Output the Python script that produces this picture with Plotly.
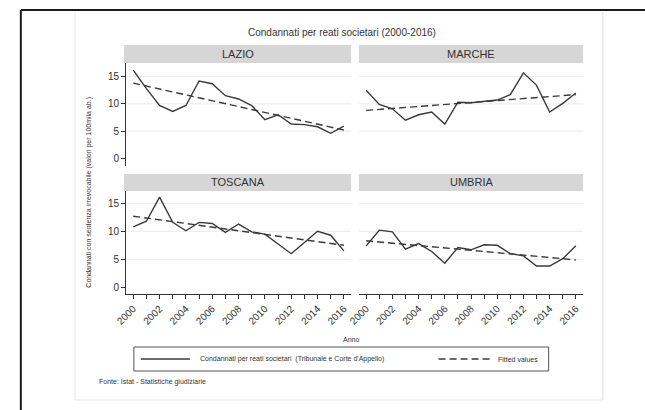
import plotly.graph_objects as go

# ---------------- data ----------------
years = list(range(2000, 2017))
regions = ["LAZIO", "MARCHE", "TOSCANA", "UMBRIA"]

lazio = [16.2, 12.8, 9.7, 8.6, 9.7, 14.2, 13.7, 11.5, 10.9, 9.7, 7.1, 8.0, 6.3, 6.2, 5.8, 4.6, 5.9]
marche = [12.5, 9.9, 9.1, 7.0, 8.0, 8.5, 6.3, 10.3, 10.2, 10.4, 10.7, 11.7, 15.7, 13.4, 8.5, 10.1, 12.0]
toscana = [10.8, 11.8, 16.1, 11.6, 10.1, 11.6, 11.4, 9.8, 11.3, 9.9, 9.5, 7.7, 6.0, 8.0, 10.0, 9.3, 6.5]
umbria = [7.4, 10.2, 9.9, 6.8, 7.8, 6.4, 4.3, 7.1, 6.7, 7.6, 7.5, 6.0, 5.6, 3.8, 3.8, 5.1, 7.4]

# fitted values at 2000 and 2016
fit_years = [2000, 2016]
fit_lazio = [13.8, 5.2]
fit_marche = [8.8, 11.7]
fit_toscana = [12.7, 7.5]
fit_umbria = [8.3, 4.9]

ytick_vals = [0, 5, 10, 15]
grid_vals = [5, 10, 15]
xtick_labels = [str(y) if y % 2 == 0 else "" for y in years]

series = [lazio, marche, toscana, umbria]
fits = [fit_lazio, fit_marche, fit_toscana, fit_umbria]

title_text = "Condannati per reati societari (2000-2016)"
ytitle_text = "Condannati con sentenza irrevocabile (valori per 100mila ab.)"
xtitle_text = "Anno"
legend_solid = "Condannati per reati societari  (Tribunale e Corte d'Appello)"
legend_dash = "Fitted values"
source_text = "Fonte: Istat - Statistiche giudiziarie"

# ---------------- geometry helpers ----------------
W, H = 645, 410


def px(x):
    return x / W


def py(y):
    return 1 - y / H


FONT = "Liberation Sans, Arial, sans-serif"
TXT = "#333333"
LINE = "#3a3a3a"

col_x = [(117, 346), (354, 582)]
row_y = [(63, 166), (191, 294)]
hdr_y = [(45, 63), (174, 191)]
yranges = [[-1.4, 17.5], [-1.2, 17.2]]
xrange_ = [1999.45, 2016.55]

fig = go.Figure()
shapes = []
annotations = []
layout_axes = {}

for i, name in enumerate(regions):
    r, c = divmod(i, 2)
    n = "" if i == 0 else str(i + 1)
    xa, ya = "x" + n, "y" + n
    x0, x1 = col_x[c]
    y0, y1 = row_y[r]

    fig.add_trace(go.Scatter(x=years, y=series[i], mode="lines", xaxis=xa, yaxis=ya,
                             line=dict(color=LINE, width=1.4), showlegend=False,
                             hoverinfo="skip"))
    fig.add_trace(go.Scatter(x=fit_years, y=fits[i], mode="lines", xaxis=xa, yaxis=ya,
                             line=dict(color=LINE, width=1.4, dash="7px,4px"),
                             showlegend=False, hoverinfo="skip"))

    layout_axes["xaxis" + n] = dict(
        domain=[px(x0), px(x1)], range=xrange_, anchor=ya,
        showgrid=False, zeroline=False,
        showline=(r == 1), linecolor=TXT, linewidth=1,
        ticks="outside" if r == 1 else "", ticklen=4, tickcolor=TXT,
        tickvals=years, ticktext=xtick_labels if r == 1 else [""] * len(years),
        showticklabels=(r == 1), tickangle=-45,
        tickfont=dict(family=FONT, size=10, color=TXT),
    )
    layout_axes["yaxis" + n] = dict(
        domain=[py(y1), py(y0)], range=yranges[r], anchor=xa,
        showgrid=False, zeroline=False,
        showline=(c == 0), linecolor=TXT, linewidth=1,
        ticks="outside" if c == 0 else "", ticklen=4, tickcolor=TXT,
        tickvals=ytick_vals, showticklabels=(c == 0),
        tickfont=dict(family=FONT, size=10, color=TXT),
    )

    # horizontal grid lines (no line at 0)
    for g in grid_vals:
        shapes.append(dict(type="line", xref=xa + " domain", yref=ya,
                           x0=0, x1=1, y0=g, y1=g, layer="below",
                           line=dict(color="#ebebeb", width=1)))

    # panel header strip
    hx0 = x0 - 2 if c == 0 else x0
    hy0, hy1 = hdr_y[r]
    shapes.append(dict(type="rect", xref="paper", yref="paper",
                       x0=px(hx0), x1=px(x1), y0=py(hy1), y1=py(hy0),
                       fillcolor="#d6d6d6", line=dict(width=0), layer="below"))
    annotations.append(dict(text=name, xref="paper", yref="paper",
                            x=px((hx0 + x1) / 2), y=py((hy0 + hy1) / 2),
                            showarrow=False, xanchor="center", yanchor="middle",
                            font=dict(family=FONT, size=11, color=TXT)))

# outer frame (black) and faint graph region border
shapes += [
    dict(type="line", xref="paper", yref="paper", x0=px(10), x1=px(645), y0=py(10), y1=py(10),
         line=dict(color="#1a1a1a", width=2)),
    dict(type="line", xref="paper", yref="paper", x0=px(10), x1=px(10), y0=py(10), y1=py(410),
         line=dict(color="#1a1a1a", width=2)),
    dict(type="line", xref="paper", yref="paper", x0=px(65), x1=px(65), y0=py(12), y1=py(400),
         line=dict(color="#f0f0f0", width=1.5), layer="below"),
    dict(type="line", xref="paper", yref="paper", x0=px(602), x1=px(602), y0=py(12), y1=py(400),
         line=dict(color="#ececec", width=2), layer="below"),
    dict(type="line", xref="paper", yref="paper", x0=px(65), x1=px(602), y0=py(400), y1=py(400),
         line=dict(color="#f0f0f0", width=1.5), layer="below"),
]

# legend box and samples
shapes += [
    dict(type="rect", xref="paper", yref="paper", x0=px(125), x1=px(547), y0=py(371), y1=py(347),
         line=dict(color="#555555", width=1), fillcolor="rgba(0,0,0,0)"),
    dict(type="line", xref="paper", yref="paper", x0=px(132), x1=px(182), y0=py(359), y1=py(359),
         line=dict(color=LINE, width=1.4)),
    dict(type="line", xref="paper", yref="paper", x0=px(435), x1=px(488), y0=py(359), y1=py(359),
         line=dict(color=LINE, width=1.4, dash="7px,4px")),
]

annotations += [
    dict(text=title_text, xref="paper", yref="paper", x=px(337), y=py(33),
         showarrow=False, xanchor="center", yanchor="middle",
         font=dict(family=FONT, size=10, color=TXT)),
    dict(text=ytitle_text, xref="paper", yref="paper", x=px(79), y=py(192),
         showarrow=False, xanchor="center", yanchor="middle", textangle=-90,
         font=dict(family=FONT, size=7, color=TXT)),
    dict(text=xtitle_text, xref="paper", yref="paper", x=px(346), y=py(339),
         showarrow=False, xanchor="center", yanchor="middle",
         font=dict(family=FONT, size=7, color=TXT)),
    dict(text=legend_solid, xref="paper", yref="paper", x=px(190), y=py(359),
         showarrow=False, xanchor="left", yanchor="middle",
         font=dict(family=FONT, size=7, color=TXT)),
    dict(text=legend_dash, xref="paper", yref="paper", x=px(493), y=py(359),
         showarrow=False, xanchor="left", yanchor="middle",
         font=dict(family=FONT, size=7, color=TXT)),
    dict(text=source_text, xref="paper", yref="paper", x=px(87), y=py(382),
         showarrow=False, xanchor="left", yanchor="middle",
         font=dict(family=FONT, size=7, color=TXT)),
]

fig.update_layout(
    width=W, height=H,
    margin=dict(l=0, r=0, t=0, b=0),
    paper_bgcolor="white", plot_bgcolor="rgba(0,0,0,0)",
    showlegend=False,
    shapes=shapes, annotations=annotations,
    **layout_axes,
)

fig.write_html("out.html")
